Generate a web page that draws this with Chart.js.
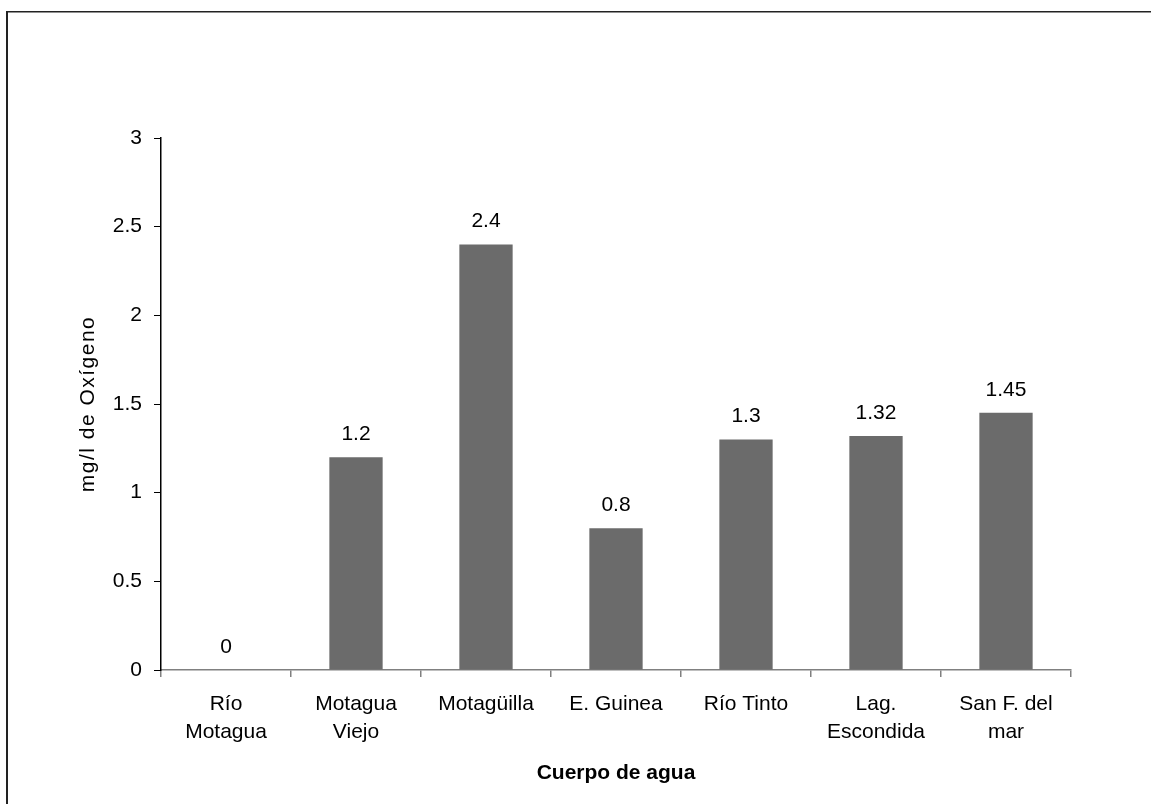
<!DOCTYPE html>
<html>
<head>
<meta charset="utf-8">
<title>Oxígeno disuelto por cuerpo de agua</title>
<script src="https://cdn.jsdelivr.net/npm/chart.js@4.4.1/dist/chart.umd.min.js"></script>
<style>
  html, body { margin: 0; padding: 0; background: #ffffff; }
  canvas { display: block; }
</style>
</head>
<body>
<canvas id="c" width="1151" height="804"></canvas>
<script>
// Bodies of water sampled (multi-line labels as shown under each bar)
const categories = [
  ['Río', 'Motagua'],
  ['Motagua', 'Viejo'],
  'Motagüilla',
  'E. Guinea',
  'Río Tinto',
  ['Lag.', 'Escondida'],
  ['San F. del', 'mar']
];
// Dissolved oxygen, mg/l
const oxygenValues = [0, 1.2, 2.4, 0.8, 1.3, 1.32, 1.45];
const valueLabels = ['0', '1.2', '2.4', '0.8', '1.3', '1.32', '1.45'];

const yTitle = 'mg/l de Oxígeno';
const xTitle = 'Cuerpo de agua';

const FONT = '"Liberation Sans", Arial, sans-serif';
const FONT_SIZE = 21;

// White page with a thin frame on the left and top edges
const framePlugin = {
  id: 'frame',
  beforeDraw(chart) {
    const ctx = chart.ctx;
    ctx.save();
    ctx.fillStyle = '#ffffff';
    ctx.fillRect(0, 0, chart.width, chart.height);
    ctx.fillStyle = '#222222';
    ctx.fillRect(6, 11, 2, chart.height);
    ctx.fillRect(6, 11, chart.width, 1.5);
    ctx.restore();
  }
};

// Value printed above each bar
const valueLabelPlugin = {
  id: 'valueLabels',
  afterDatasetsDraw(chart) {
    const ctx = chart.ctx;
    const meta = chart.getDatasetMeta(0);
    ctx.save();
    ctx.fillStyle = '#000000';
    ctx.font = FONT_SIZE + 'px ' + FONT;
    ctx.textAlign = 'center';
    ctx.textBaseline = 'middle';
    meta.data.forEach((bar, i) => {
      ctx.fillText(valueLabels[i], bar.x, bar.y - 23);
    });
    ctx.restore();
  }
};

// Rotated y-axis title, slightly letter-spaced
const yTitlePlugin = {
  id: 'yTitle',
  afterDraw(chart) {
    const ctx = chart.ctx;
    const area = chart.chartArea;
    ctx.save();
    ctx.translate(88, (area.top + area.bottom) / 2);
    ctx.rotate(-Math.PI / 2);
    ctx.font = FONT_SIZE + 'px ' + FONT;
    if ('letterSpacing' in ctx) ctx.letterSpacing = '1.5px';
    ctx.fillStyle = '#000000';
    ctx.textAlign = 'center';
    ctx.textBaseline = 'middle';
    ctx.fillText(yTitle, 0, 0);
    ctx.restore();
  }
};

new Chart(document.getElementById('c'), {
  type: 'bar',
  data: {
    labels: categories,
    datasets: [{
      data: oxygenValues,
      backgroundColor: '#6b6b6b',
      borderWidth: 0,
      categoryPercentage: 1.0,
      barPercentage: 0.41
    }]
  },
  options: {
    responsive: false,
    devicePixelRatio: 1,
    animation: false,
    layout: { padding: { left: 0, top: 138, right: 80, bottom: 0 } },
    plugins: {
      legend: { display: false },
      tooltip: { enabled: false },
      title: { display: false }
    },
    scales: {
      x: {
        grid: {
          display: true,
          drawOnChartArea: false,
          drawTicks: true,
          tickLength: 7,
          color: '#808080',
          lineWidth: 1.5
        },
        border: { display: true, color: '#808080', width: 1.5 },
        ticks: {
          color: '#000000',
          font: { family: FONT, size: FONT_SIZE, lineHeight: 1.3 },
          padding: 14,
          maxRotation: 0,
          autoSkip: false
        },
        title: {
          display: true,
          text: xTitle,
          color: '#000000',
          font: { family: FONT, size: FONT_SIZE, weight: 'bold', lineHeight: 1.2 },
          padding: { top: 0, bottom: 18 }
        },
        afterFit(scale) { scale.height = 134; }
      },
      y: {
        min: 0,
        max: 3,
        grid: {
          display: true,
          drawOnChartArea: false,
          drawTicks: true,
          tickLength: 7,
          color: '#000000',
          lineWidth: 1
        },
        border: { display: true, color: '#000000', width: 1.5 },
        ticks: {
          stepSize: 0.5,
          color: '#000000',
          font: { family: FONT, size: FONT_SIZE },
          padding: 12,
          callback: (value) => String(value)
        },
        afterFit(scale) { scale.width = 161; }
      }
    }
  },
  plugins: [framePlugin, valueLabelPlugin, yTitlePlugin]
});
</script>
</body>
</html>
